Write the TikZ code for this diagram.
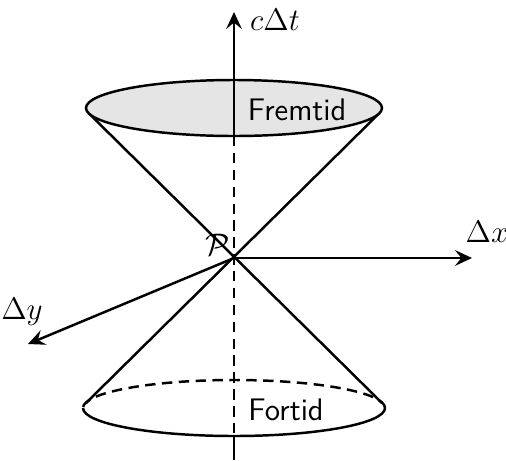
\documentclass[tikz,border=0pt]{standalone}
\usetikzlibrary{arrows.meta}
\begin{document}
\begin{tikzpicture}[x=0.385pt,y=0.385pt,line width=0.95pt,
  axis/.style={-{Stealth[length=6.5pt,width=6pt,inset=2.4pt]}},
  dashline/.style={dash pattern=on 4pt off 2.5pt},
  lbl/.style={inner sep=0pt,font=\sffamily\large}]
\useasboundingbox (0,0) rectangle (506,460);
% key points
\coordinate (P) at (234,202);
\coordinate (ttop) at (234,448);
\coordinate (tbot) at (234,0);
\coordinate (xend) at (472,202);
\coordinate (yend) at (28,116);
\coordinate (TL) at (88.5,347);
\coordinate (TR) at (379.5,347);
\coordinate (BL) at (86,57);
\coordinate (BR) at (382,57);
\coordinate (topC) at (234,352);
\coordinate (botC) at (234,52);
\coordinate (topLow) at (234,324);
\coordinate (botLow) at (234,24);
% cone lines
\draw (TL) -- (BR);
\draw (TR) -- (BL);
% bottom ellipse
\draw[dashline] (385,52) arc[start angle=0,end angle=180,x radius=151,y radius=28];
\draw (83,52) arc[start angle=180,end angle=360,x radius=151,y radius=28];
% dashed time axis
\draw[dashline] (topLow) -- (botLow);
\draw (botLow) -- (tbot);
% top ellipse
\draw[fill=black!10] (topC) ellipse[x radius=148,y radius=28];
\draw[axis] (topLow) -- (ttop);
% spatial axes
\draw[axis] (P) -- (xend);
\draw[axis] (P) -- (yend);
% labels
\node[anchor=west,inner sep=0pt] (tl) at (249,440) {\large $c\Delta t$};
\node (xl) at (487,228) {\large $\Delta x$};
\node (yl) at (22,148) {\large $\Delta y$};
\node (pl) at (218,215) {\large $\mathcal{P}$};
\node[lbl] (fremtid) at (297,350) {Fremtid};
\node[lbl] (fortid) at (286,50) {Fortid};
\end{tikzpicture}
\end{document}
